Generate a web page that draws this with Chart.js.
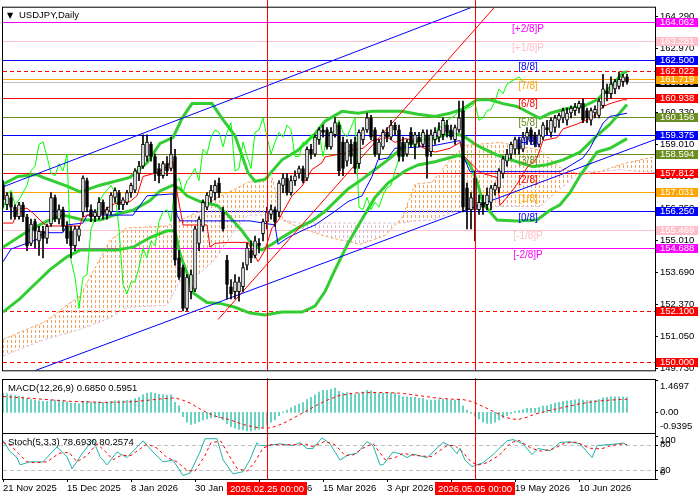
<!DOCTYPE html>
<html>
<head>
<meta charset="utf-8">
<title>USDJPY Daily</title>
<script src="https://cdn.jsdelivr.net/npm/chart.js@4.4.1/dist/chart.umd.min.js"></script>
<style>
  html, body { margin: 0; padding: 0; background: #fff; }
  #wrap { position: relative; width: 700px; height: 500px; overflow: hidden; }
  canvas { position: absolute; left: 0; }
</style>
</head>
<body>
<div id="wrap">
  <canvas id="main" width="700" height="378" style="top:0"></canvas>
  <canvas id="macd" width="700" height="55" style="top:378px"></canvas>
  <canvas id="stoch" width="700" height="67" style="top:433px"></canvas>
</div>
<script>
// ---- candles (bar index 0 = 21 Nov 2025) ----
const opens = [157.3,156.5,156.8,156.4,156.0,156.5,156.0,154.9,155.8,155.0,155.4,155.1,155.7,156.8,155.9,156.3,155.6,155.4,154.8,155.2,
  156.2,157.5,156.3,156.0,156.0,156.6,156.1,156.2,156.8,157.0,156.5,156.6,157.0,157.1,157.8,158.1,158.5,159.0,158.5,158.0,
  157.7,158.2,158.0,158.5,154.3,153.9,152.2,152.9,153.0,154.9,155.6,156.4,156.8,157.0,157.4,156.2,154.2,153.1,152.9,152.9,
  153.1,154.0,154.6,154.4,154.9,155.3,155.8,156.1,156.3,156.2,157.3,157.6,157.0,157.5,157.8,158.0,157.6,158.8,158.6,159.2,
  159.6,159.6,158.9,159.4,159.8,159.1,158.3,159.0,159.1,158.2,159.2,159.6,160.1,159.6,158.6,158.9,159.5,159.3,159.8,159.6,
  159.1,158.6,159.5,159.0,159.3,159.0,159.4,158.7,159.2,159.3,159.4,159.8,159.6,159.2,159.6,160.4,157.2,156.3,157.6,156.3,
  156.6,156.5,156.6,157.1,157.2,157.8,158.3,158.6,158.8,159.2,158.8,159.3,159.6,159.4,159.0,159.3,159.7,159.5,159.7,160.0,
  160.1,160.0,160.3,160.4,160.5,160.7,160.4,160.0,160.3,160.2,160.6,161.2,161.1,161.3,161.4,161.6,161.8];
const highs = [157.5,157.0,157.0,156.5,156.6,156.6,156.1,155.9,155.9,155.6,155.6,155.7,157.0,156.9,156.5,156.4,155.8,155.6,155.6,155.6,
  157.7,157.6,156.5,156.3,156.8,156.7,156.4,157.0,157.2,157.1,156.8,157.1,157.4,158.0,158.3,159.4,159.4,159.1,158.6,158.2,
  158.3,158.5,159.3,158.8,154.6,154.0,153.6,153.8,155.6,156.0,156.7,157.0,157.3,157.5,157.6,156.4,154.4,153.4,153.6,153.5,
  154.1,154.9,155.0,155.2,155.1,155.9,156.4,156.5,156.4,157.5,157.8,157.8,157.7,157.9,158.1,158.1,158.9,159.0,159.4,159.7,
  159.8,159.7,159.7,160.1,159.9,159.3,159.2,159.2,159.3,159.6,159.7,160.3,160.2,159.7,159.2,159.6,159.7,160.0,159.9,159.8,
  159.3,159.2,159.7,159.5,159.5,159.6,159.6,159.6,159.7,159.9,160.1,160.0,159.8,159.8,160.8,160.8,157.4,157.0,157.9,156.9,
  156.9,157.2,157.3,157.4,158.0,158.5,158.8,159.1,159.3,159.3,159.5,159.7,159.7,159.5,159.6,159.9,160.0,160.1,160.2,160.3,
  160.5,160.5,160.6,160.7,160.8,160.9,160.5,160.5,160.6,160.9,161.9,161.5,161.8,161.7,162.0,161.9,161.9];
const lows = [156.4,156.3,155.9,155.9,155.9,155.8,154.6,154.8,154.7,154.4,154.3,154.9,155.6,155.8,155.7,155.4,154.9,154.3,154.6,155.0,
  156.0,156.2,155.8,155.8,155.9,155.9,155.9,156.1,156.6,156.3,156.3,156.5,156.8,157.0,157.5,158.0,158.3,158.3,157.5,157.4,
  157.6,157.7,157.9,154.0,153.4,152.1,152.1,152.6,152.9,154.6,155.4,156.3,156.6,156.7,156.8,155.4,152.6,152.6,152.6,152.5,
  152.9,153.8,154.1,154.3,154.5,155.0,155.5,155.9,155.6,156.0,157.0,156.9,156.9,157.3,157.6,157.4,157.5,158.4,158.5,159.0,
  159.3,158.8,158.8,159.3,157.7,157.7,158.1,158.2,157.8,158.0,159.0,159.5,159.2,158.5,158.4,158.8,159.1,159.2,159.4,158.3,
  158.3,158.5,158.9,158.4,158.9,158.9,157.6,158.5,159.0,159.1,159.2,159.3,159.2,159.0,159.5,156.2,155.5,155.5,155.0,156.1,
  156.1,156.3,156.3,156.9,157.0,157.6,158.1,158.4,158.6,158.6,158.7,159.0,159.0,158.9,158.9,159.2,159.4,159.3,159.5,159.7,
  159.9,159.8,160.1,160.2,160.3,159.9,159.9,159.8,160.1,160.1,160.5,160.8,160.9,161.1,161.3,161.4,161.5];
const closes = [156.7,156.9,156.4,156.0,156.5,156.0,154.8,155.7,155.4,155.4,155.1,155.6,156.8,155.9,156.3,155.6,155.1,154.8,155.5,155.5,
  157.6,156.4,156.0,156.2,156.6,156.1,156.3,156.9,157.1,156.5,156.7,157.0,157.3,157.9,158.1,159.0,159.1,158.5,157.8,157.7,
  158.2,157.9,158.6,154.2,153.5,152.2,153.5,153.6,155.5,155.9,156.6,156.9,157.1,157.3,157.0,155.5,153.2,152.8,153.3,153.3,
  153.9,154.7,154.3,155.0,154.8,155.8,156.2,156.3,155.8,157.4,157.6,157.0,157.5,157.7,158.0,157.5,158.8,158.6,159.3,159.6,
  159.5,158.9,159.5,159.9,157.9,158.0,159.1,158.5,158.0,159.5,159.6,160.1,159.3,158.6,159.1,159.5,159.3,159.8,159.6,158.5,
  158.5,159.1,159.0,159.4,159.1,159.5,158.5,159.4,159.5,159.6,160.0,159.5,159.3,159.7,160.1,156.4,156.3,156.8,156.3,156.6,
  156.4,156.9,157.2,157.3,157.9,158.4,158.6,159.0,159.2,158.8,159.3,159.5,159.1,159.0,159.4,159.8,159.6,160.0,160.1,160.2,
  160.4,160.3,160.5,160.55,160.7,160.0,160.1,160.4,160.45,160.8,161.3,161.1,161.5,161.6,161.7,161.8,161.59];

// ---- indicators: [bar index, value] ----
const bbUpper = [[0,157.35],[3.75,157.67],[8.5,157.75],[10,157.63],[16,157.27],[19.25,157.03],[24.25,157.31],[31.75,157.63],[36,158.24],
  [39.25,159.04],[42.5,159.28],[44.75,160.08],[47.25,160.69],[52.25,160.69],[54.75,160.08],[58,159.36],[61.25,157.83],[63,157.47],
  [65.5,157.55],[69.75,158.36],[73.75,158.76],[78,159.44],[80.5,159.96],[84.75,160.37],[88.75,160.29],[92.25,160.37],[99.75,160.37],
  [103.75,160.25],[108,160.16],[111.75,160.29],[114.75,160.45],[118.5,160.85],[121.75,160.85],[125,160.69],[128.5,160.57],
  [131.75,160.29],[134.25,160.08],[136.75,160.29],[141,160.49],[145,160.57],[148.5,160.85],[151.75,161.37],[155,161.97],[156,162.01]];
const bbMiddle = [[0,154.74],[6.75,155.46],[11,155.82],[15,156.07],[20,155.87],[24.25,155.87],[28.5,156.11],[32.5,156.27],[36.75,156.67],
  [39.25,157.07],[42.5,157.31],[44.25,157.15],[46,156.87],[49.25,156.63],[53.5,156.47],[56.25,156.07],[59.75,155.42],[62.25,154.86],
  [64.75,154.62],[67.25,154.86],[69.75,155.14],[73.75,155.54],[77.25,155.83],[80.5,156.23],[83,156.63],[86.25,157.15],[89.75,157.55],
  [93,157.96],[96.25,158.36],[100.5,158.96],[103.75,159.16],[108,159.24],[111.75,159.48],[115,159.36],[118.5,158.96],[123.5,158.56],
  [128.5,158.28],[132.5,158.08],[136,158.16],[140,158.36],[144.25,158.68],[148.5,159.36],[151.75,159.84],[156,160.65]];
const bbLower = [[0,152.05],[4.25,152.61],[7.5,153.13],[11.75,153.81],[16,154.34],[19.25,154.62],[23.5,154.62],[28.5,154.62],[32.5,154.74],
  [36.75,155.14],[41,155.42],[43,155.42],[44.25,154.46],[46,153.66],[47.5,152.85],[51,152.45],[54.25,152.41],[58,152.25],[61.75,152.01],
  [65.5,151.93],[69.75,152.05],[74.75,152.05],[78,152.3],[80.5,152.9],[83,153.8],[86.25,154.9],[89.75,155.9],[93,156.8],[96.25,157.4],
  [100.5,157.9],[103.75,158.15],[108,158.28],[114.25,158.56],[116.75,158.16],[118.5,157.47],[120,156.55],[123.5,155.87],[128.5,155.83],
  [133.5,155.87],[136.75,156.27],[139.25,156.5],[141.75,157.0],[144.25,157.7],[148.5,158.68],[151.75,158.84],[156,159.24]];
const tenkan = [[0,155.74],[2.5,155.74],[3.75,156.35],[6,156.35],[7.5,156.15],[10,155.74],[11,155.62],[19.25,155.62],[19.75,155.95],
  [21,156.07],[24.25,156.07],[26,156.35],[28,156.55],[31.75,156.63],[33.5,156.87],[35,157.67],[38.5,157.83],[41,158.08],[42,158.36],
  [42.5,158.24],[43.5,157.03],[45,155.66],[51,155.66],[51.75,154.74],[53,154.9],[56.25,154.94],[61.25,154.94],[63.75,154.14],
  [65.5,154.62],[67.25,155.54],[68.75,155.83],[72.25,156.87],[74.75,157.27],[77.25,157.96],[79.75,158.24],[80.5,158.48],[85.5,158.64],
  [87.25,158.76],[90,158.84],[92.25,159.16],[96.25,159.28],[98,159.08],[100.5,159.24],[103,159.16],[104.75,158.88],[108,158.68],
  [111.75,158.84],[114.25,159.08],[115,158.56],[119.25,157.83],[123.5,157.63],[124.25,156.47],[126.75,156.95],[128.5,157.35],
  [131,158.04],[133.5,158.44],[135,159.16],[138.5,159.28],[140,159.64],[143.5,159.84],[146.75,160.08],[148.5,160.28],[150,160.57],
  [151.75,160.69],[155,160.85],[156,160.85]];
const kijun = [[0,154.14],[2,154.66],[8.5,155.06],[10,155.34],[15,155.34],[16,155.66],[20,155.74],[21,156.07],[32.5,156.07],[34.25,156.47],
  [36,156.87],[42.5,156.95],[43.5,156.07],[44.25,155.83],[61.75,155.83],[68,155.66],[68.75,154.86],[71.25,155.14],[74.75,155.42],
  [78,155.66],[83,156.23],[86.25,156.63],[89.75,156.87],[92.25,157.67],[93.75,158.36],[96.25,158.44],[98,158.84],[103,158.88],
  [108,158.96],[114.25,159.16],[115,158.56],[116.75,157.87],[139.25,157.87],[141,158.04],[145,158.44],[146.75,158.84],[150,159.88],
  [151.75,160.16],[156,160.29]];
const spanA = [[0,150.92],[10.5,151.65],[19.25,152.73],[26.75,155.02],[31,155.54],[41,155.62],[44.25,155.86],[49.25,156.23],[53,156.75],
  [58,157.15],[61.25,157.43],[67.25,157.63],[70,155.86],[74.25,155.54],[81.75,155.14],[89.25,154.86],[95.5,155.22],[99.75,155.95],
  [103,157.35],[107.25,157.43],[111.75,158.36],[115.5,158.96],[124.25,159.08],[134.25,158.76],[139.25,158.04],[144.25,157.75],
  [149.25,157.87],[154.25,158.16],[159.25,158.36],[163,158.48]];
const spanB = [[0,150.24],[10.5,150.92],[19.25,151.33],[26.75,151.81],[31,152.25],[41,152.33],[44.25,153.33],[49.25,153.66],[53,154.22],
  [58,155.46],[61.25,156.07],[67.25,156.07],[70,155.86],[74.25,155.74],[81.75,155.74],[89.25,155.74],[95.5,155.74],[99.75,155.74],
  [103,155.83],[107.25,155.86],[111.75,156.15],[115.5,156.35],[124.25,156.43],[134.25,156.43],[139.25,157.15],[144.25,157.87],
  [149.25,157.87],[154.25,157.96],[159.25,157.87],[163,157.83]];
const chanUpper = [[0,157.24],[163,167.59]];
const chanLower = [[0,149.13],[163,159.2]];
const redTrend = [[53.75,151.74],[125,165.08]];

// ---- Murrey levels and other price lines ----
const mmLevels = [164.062,163.281,162.5,161.719,160.938,160.156,159.375,158.594,157.812,157.031,156.25,155.469,154.688];
const mmNames = ['[+2/8]P','[+1/8]P','[8/8]','[7/8]','[6/8]','[5/8]','[4/8]','[3/8]','[2/8]','[1/8]','[0/8]','[-1/8]P','[-2/8]P'];
const mmColors = ['#ff00ff','#ffc0cb','#0000ff','#ffa500','#ff0000','#6b8e23','#0000ff','#6b8e23','#ff0000','#ffa500','#0000ff','#ffc0cb','#ff00ff'];
const dashLevels = [162.022,152.1,150.0];
const bidPrice = 161.59;
const yTickVals = [149.73,151.05,152.37,153.69,155.01,156.35,157.69,159.01,160.33,161.65,162.97,164.29];

// ---- MACD(12,26,9) ----
const macdHist = [0.86,0.84,0.80,0.76,0.74,0.70,0.62,0.58,0.54,0.52,0.50,0.50,0.56,0.56,0.56,0.52,0.48,0.42,0.42,0.40,
  0.50,0.50,0.48,0.47,0.48,0.46,0.46,0.50,0.52,0.52,0.52,0.54,0.56,0.62,0.68,0.80,0.88,0.90,0.86,0.82,
  0.80,0.78,0.80,0.45,0.30,-0.20,-0.45,-0.55,-0.50,-0.42,-0.35,-0.30,-0.25,-0.22,-0.25,-0.35,-0.52,-0.65,-0.72,-0.78,
  -0.80,-0.84,-0.85,-0.80,-0.78,-0.70,-0.58,-0.45,-0.35,-0.15,0.02,0.10,0.20,0.30,0.38,0.44,0.58,0.68,0.80,0.92,
  1.00,1.00,1.05,1.10,0.95,0.88,0.90,0.88,0.82,0.88,0.92,1.00,0.98,0.88,0.86,0.88,0.86,0.88,0.88,0.78,
  0.70,0.70,0.68,0.68,0.64,0.64,0.56,0.56,0.56,0.58,0.60,0.58,0.55,0.56,0.60,0.30,0.10,-0.05,-0.18,-0.30,
  -0.45,-0.50,-0.50,-0.45,-0.35,-0.25,-0.15,-0.05,0.05,0.08,0.12,0.18,0.18,0.18,0.22,0.28,0.30,0.36,0.42,0.46,
  0.50,0.52,0.55,0.57,0.60,0.56,0.53,0.53,0.53,0.58,0.66,0.68,0.70,0.70,0.71,0.70,0.685];
const macdSignal = [[0,0.72],[8,0.62],[17,0.50],[25,0.45],[32.5,0.48],[40,0.62],[43,0.66],[45,0.55],[47,0.40],[49,0.18],[51,-0.02],
  [53.5,-0.20],[56,-0.30],[58,-0.42],[60,-0.55],[62.5,-0.66],[65,-0.72],[67,-0.70],[69,-0.58],[71,-0.42],[73,-0.22],[75,-0.02],
  [77,0.18],[79,0.38],[81,0.55],[84,0.76],[88,0.88],[92,0.90],[96,0.90],[100,0.86],[104,0.76],[108,0.66],[112,0.60],[115,0.58],
  [117,0.50],[119,0.35],[121,0.18],[123,0.00],[125,-0.18],[127,-0.30],[129,-0.32],[131,-0.22],[133,-0.08],[136,0.06],[140,0.22],
  [144,0.38],[148,0.50],[152,0.56],[156,0.595]];

// ---- Stoch(5,3,3) ----
const stochMain = [[0,90],[1.75,64],[3.5,50],[4.25,33],[6.75,40],[10,40],[13.5,75],[16,52],[17.25,24],[20,62],[22.5,92],[24.25,52],
  [26,33],[28.5,63],[31,50],[35,89],[37.5,63],[40,40],[42.5,44],[45,8],[46.75,14],[49.25,63],[50.5,94],[53.5,94],[55,45],[57.5,12],
  [60,17],[61.75,45],[63.5,85],[64.25,78],[66,78],[69.25,82],[72.5,78],[74.25,85],[76,71],[77.5,71],[79.75,96],[81.75,82],[84.25,44],
  [86.25,56],[88.5,60],[91,87],[92.5,78],[94.25,33],[95,33],[97.5,63],[99.25,59],[101,50],[102.5,58],[106,50],[110,85],[111.75,78],
  [113.5,59],[114.25,72],[115.5,44],[117.25,29],[120,38],[122.5,57],[126,89],[127.5,92],[130,82],[132.25,57],[133.75,71],[136.75,66],
  [139.25,85],[141.75,87],[144.25,82],[147.25,50],[148.5,78],[151,80],[153.5,82],[155,84],[156,78.69]];
const stochSignal = [[0,85],[2,78],[4,58],[6,40],[8,38],[11,40],[14,60],[16.5,62],[18.5,40],[21,55],[23.5,82],[25.5,65],[27.5,45],
  [29.5,55],[32,55],[36,82],[38.5,72],[41,50],[43.5,40],[46,20],[48,18],[50.5,55],[52,85],[54.5,88],[56.5,55],[58.5,25],[61,18],
  [63,40],[65,72],[67,80],[70,80],[73,80],[75.5,82],[77.5,75],[80.5,88],[83,80],[85.5,55],[87.5,56],[90,72],[92.5,83],[95.5,45],
  [98,50],[100,60],[103,55],[107,52],[111,78],[113,78],[115,62],[116.5,45],[118.5,32],[121,38],[124,55],[127,85],[129,90],[132,72],
  [134.5,65],[137.5,70],[140.5,84],[143.5,86],[146.5,72],[149.5,70],[152,78],[155,82],[156,80.26]];

// ---- time axis ----
const dateIdx = [0,16,32,48,64,80,96,112,128,144];
const dateTxt = ['21 Nov 2025','15 Dec 2025','8 Jan 2026','30 Jan 2026','23 Feb 2026','15 Mar 2026','3 Apr 2026','27 Apr 2026','19 May 2026','10 Jun 2026'];
const markIdx = [66,118];
const markTxt = ['2026.02.25 00:00','2026.05.05 00:00'];
const X_MAX = 163;

const FONT = '"Liberation Sans", Arial, sans-serif';
Chart.defaults.font.family = FONT;
Chart.defaults.font.size = 9.5;
Chart.defaults.color = '#000';
Chart.defaults.animation = false;

const pairs = a => a.map(p => ({x: p[0], y: p[1]}));
const lineDs = (data, color, width, extra) => Object.assign({
  type: 'line', data: pairs(data), borderColor: color, borderWidth: width,
  pointRadius: 0, fill: false, tension: 0
}, extra || {});

const mainCtx = document.getElementById('main').getContext('2d');
function hatch(color) {
  const c = document.createElement('canvas');
  c.width = 4; c.height = 5;
  const g = c.getContext('2d');
  g.fillStyle = color;
  g.fillRect(3, 0, 1, 3);
  return mainCtx.createPattern(c, 'repeat');
}

function hLine(ctx, a, yy, color, dash) {
  ctx.strokeStyle = color;
  ctx.setLineDash(dash || []);
  ctx.beginPath();
  ctx.moveTo(a.left, yy);
  ctx.lineTo(a.right, yy);
  ctx.stroke();
}
function frame(ctx, a) {
  ctx.save();
  ctx.strokeStyle = '#000';
  ctx.lineWidth = 1;
  ctx.setLineDash([]);
  ctx.strokeRect(a.left - 0.5, a.top - 0.5, a.right - a.left + 1, a.bottom - a.top + 1);
  ctx.restore();
}
function vMarks(chart) {
  const {ctx, chartArea: a, scales: {x}} = chart;
  ctx.save();
  ctx.strokeStyle = '#ff0000';
  ctx.lineWidth = 1;
  markIdx.forEach(i => {
    const px = Math.round(x.getPixelForValue(i)) + 0.5;
    ctx.beginPath();
    ctx.moveTo(px, 0);
    ctx.lineTo(px, a.bottom);
    ctx.stroke();
  });
  ctx.restore();
}
function panelTitle(ctx, a, text) {
  ctx.save();
  ctx.font = '9.5px ' + FONT;
  ctx.fillStyle = '#000';
  ctx.textBaseline = 'middle';
  ctx.fillText(text, a.left + 5, a.top + 8);
  ctx.restore();
}
function sideLabel(ctx, a, yy, text) {
  ctx.save();
  ctx.strokeStyle = '#000';
  ctx.beginPath();
  ctx.moveTo(a.right, Math.round(yy) + 0.5);
  ctx.lineTo(a.right + 3, Math.round(yy) + 0.5);
  ctx.stroke();
  const ty = Math.min(Math.max(yy, a.top + 6), a.bottom - 7);
  ctx.font = '9.5px ' + FONT;
  ctx.fillStyle = '#000';
  ctx.textBaseline = 'middle';
  ctx.fillText(text, a.right + 5, ty);
  ctx.restore();
}

const mainDecor = {
  id: 'mainDecor',
  beforeDatasetsDraw(chart) {
    const {ctx, chartArea: a, scales: {y}} = chart;
    ctx.save();
    ctx.lineWidth = 1;
    mmLevels.forEach((v, k) => hLine(ctx, a, Math.round(y.getPixelForValue(v)) + 0.5, mmColors[k]));
    hLine(ctx, a, Math.round(y.getPixelForValue(bidPrice)) + 0.5, '#c0c0c0');
    dashLevels.forEach(v => hLine(ctx, a, Math.round(y.getPixelForValue(v)) + 0.5, '#ff0000', [4, 3]));
    ctx.restore();
  },
  afterDatasetsDraw(chart) {
    const {ctx, chartArea: a, scales: {x, y}} = chart;
    ctx.save();
    ctx.font = '10px ' + FONT;
    ctx.textAlign = 'center';
    ctx.textBaseline = 'top';
    const lx = x.getPixelForValue(131.25);
    mmLevels.forEach((v, k) => {
      ctx.fillStyle = mmColors[k];
      ctx.fillText(mmNames[k], lx, y.getPixelForValue(v) + 2);
    });
    ctx.restore();
    vMarks(chart);
    ctx.save();
    ctx.fillStyle = '#000';
    ctx.font = '8px "DejaVu Sans"';
    ctx.textBaseline = 'middle';
    ctx.fillText('\u25BC', a.left + 4, a.top + 8);
    ctx.font = '9.5px ' + FONT;
    ctx.fillText('USDJPY,Daily', a.left + 16, a.top + 8);
    ctx.restore();
  },
  afterDraw(chart) {
    const {ctx, chartArea: a, scales: {y}} = chart;
    frame(ctx, a);
    const boxes = [[bidPrice, '#000000']]
      .concat(mmLevels.map((v, k) => [v, mmColors[k]]))
      .concat(dashLevels.map(v => [v, '#ff0000']));
    ctx.save();
    ctx.font = '9.5px ' + FONT;
    ctx.textBaseline = 'middle';
    boxes.forEach(([v, c]) => {
      const yy = Math.round(y.getPixelForValue(v));
      ctx.fillStyle = c;
      ctx.fillRect(a.right + 1, yy - 4, 42, 9);
      ctx.fillStyle = '#fff';
      ctx.fillText(v.toFixed(3), a.right + 5, yy + 0.5);
    });
    ctx.restore();
  }
};

new Chart(mainCtx, {
  type: 'bar',
  data: {
    datasets: [
      lineDs(spanA, '#f4a460', 1, {borderDash: [3, 2], order: 10,
        fill: {target: '+1', above: hatch('#f4a460'), below: hatch('#d8bfd8')}}),
      lineDs(spanB, '#d8bfd8', 1, {borderDash: [3, 2], order: 10}),
      lineDs(bbUpper, '#32cd32', 3, {order: 8}),
      lineDs(bbMiddle, '#32cd32', 3, {order: 8}),
      lineDs(bbLower, '#32cd32', 3, {order: 8}),
      {type: 'line', data: closes.slice(26).map((c, k) => ({x: k, y: c})), borderColor: '#00ff00',
        borderWidth: 1, pointRadius: 0, fill: false, tension: 0, order: 7},
      lineDs(tenkan, '#ff0000', 1, {order: 6}),
      lineDs(kijun, '#0000ff', 1, {order: 6}),
      lineDs(chanUpper, '#0000ff', 1, {order: 5}),
      lineDs(chanLower, '#0000ff', 1, {order: 5}),
      lineDs(redTrend, '#ff0000', 1, {order: 5}),
      {type: 'bar', data: highs.map((h, i) => ({x: i, y: [lows[i], h]})), backgroundColor: '#000',
        barThickness: 1, grouped: false, order: 2},
      {type: 'bar', data: opens.map((o, i) => ({x: i, y: [o, closes[i]]})),
        backgroundColor: closes.map((c, i) => c >= opens[i] ? '#ffffff' : '#000000'),
        borderColor: '#000', borderWidth: 1, borderSkipped: false, barThickness: 3, grouped: false, order: 1}
    ]
  },
  options: {
    responsive: false,
    devicePixelRatio: 1,
    layout: {padding: {top: 3, left: 3, right: 0, bottom: 1}, autoPadding: false},
    plugins: {legend: {display: false}, tooltip: {enabled: false}},
    scales: {
      x: {type: 'linear', min: 0, max: X_MAX, offset: false, display: false},
      y: {
        position: 'right', min: 149.638, max: 164.665,
        afterBuildTicks: s => { s.ticks = yTickVals.map(v => ({value: v})); },
        afterFit: s => { s.width = 45; },
        ticks: {callback: v => v.toFixed(3), padding: 2, autoSkip: false},
        grid: {drawOnChartArea: false, drawTicks: true, tickLength: 3, color: '#000'},
        border: {display: false}
      }
    }
  },
  plugins: [mainDecor]
});

const macdDecor = {
  id: 'macdDecor',
  afterDatasetsDraw(chart) { vMarks(chart); },
  afterDraw(chart) {
    const {ctx, chartArea: a, scales: {y}} = chart;
    frame(ctx, a);
    panelTitle(ctx, a, 'MACD(12,26,9) 0.6850 0.5951');
    sideLabel(ctx, a, y.getPixelForValue(1.4697), '1.4697');
    sideLabel(ctx, a, y.getPixelForValue(0), '0.00');
    sideLabel(ctx, a, y.getPixelForValue(-0.9395), '-0.9395');
  }
};

new Chart(document.getElementById('macd'), {
  type: 'bar',
  data: {
    datasets: [
      {type: 'line', data: pairs(macdSignal), borderColor: '#ff0000', borderWidth: 1, borderDash: [3, 3],
        pointRadius: 0, fill: false, tension: 0, order: 0},
      {type: 'bar', data: macdHist.map((v, i) => ({x: i, y: v})), backgroundColor: '#4cc9b6',
        barThickness: 1, grouped: false, order: 1}
    ]
  },
  options: {
    responsive: false,
    devicePixelRatio: 1,
    layout: {padding: {top: 2, left: 3, right: 45, bottom: 0}, autoPadding: false},
    plugins: {legend: {display: false}, tooltip: {enabled: false}},
    scales: {
      x: {type: 'linear', min: 0, max: X_MAX, offset: false, display: false},
      y: {min: -0.9395, max: 1.4697, display: false}
    }
  },
  plugins: [macdDecor]
});

const stochDecor = {
  id: 'stochDecor',
  beforeDatasetsDraw(chart) {
    const {ctx, chartArea: a, scales: {y}} = chart;
    ctx.save();
    ctx.lineWidth = 1;
    [80, 20].forEach(v => hLine(ctx, a, Math.round(y.getPixelForValue(v)) + 0.5, '#c0c0c0', [4, 3]));
    ctx.restore();
  },
  afterDatasetsDraw(chart) { vMarks(chart); },
  afterDraw(chart) {
    const {ctx, chartArea: a, scales: {x, y}} = chart;
    frame(ctx, a);
    panelTitle(ctx, a, 'Stoch(5,3,3) 78.6930 80.2574');
    [100, 80, 20, 0].forEach(v => sideLabel(ctx, a, y.getPixelForValue(v), String(v)));
    ctx.save();
    ctx.font = '9.5px ' + FONT;
    ctx.textAlign = 'center';
    ctx.textBaseline = 'middle';
    markIdx.forEach((i, k) => {
      const px = Math.round(x.getPixelForValue(i));
      ctx.fillStyle = '#ff0000';
      ctx.fillRect(px - 40, a.bottom + 3, 80, 13);
      ctx.fillStyle = '#fff';
      ctx.fillText(markTxt[k], px, a.bottom + 10);
    });
    ctx.restore();
  }
};

new Chart(document.getElementById('stoch'), {
  type: 'line',
  data: {
    datasets: [
      {data: pairs(stochSignal), borderColor: '#ff0000', borderWidth: 1, borderDash: [3, 3], pointRadius: 0, fill: false, tension: 0},
      {data: pairs(stochMain), borderColor: '#20b2aa', borderWidth: 1, pointRadius: 0, fill: false, tension: 0}
    ]
  },
  options: {
    responsive: false,
    devicePixelRatio: 1,
    layout: {padding: {top: 1, left: 3, right: 45, bottom: 0}, autoPadding: false},
    plugins: {legend: {display: false}, tooltip: {enabled: false}},
    scales: {
      x: {
        type: 'linear', min: 0, max: X_MAX, offset: false,
        afterBuildTicks: s => { s.ticks = dateIdx.map(v => ({value: v})); },
        afterFit: s => { s.height = 21; },
        ticks: {callback: v => dateTxt[dateIdx.indexOf(v)], align: 'start', maxRotation: 0, autoSkip: false, padding: 1},
        grid: {drawOnChartArea: false, drawTicks: true, tickLength: 3, color: '#000'},
        border: {display: false}
      },
      y: {min: 0, max: 105, display: false}
    }
  },
  plugins: [stochDecor]
});
</script>
</body>
</html>
